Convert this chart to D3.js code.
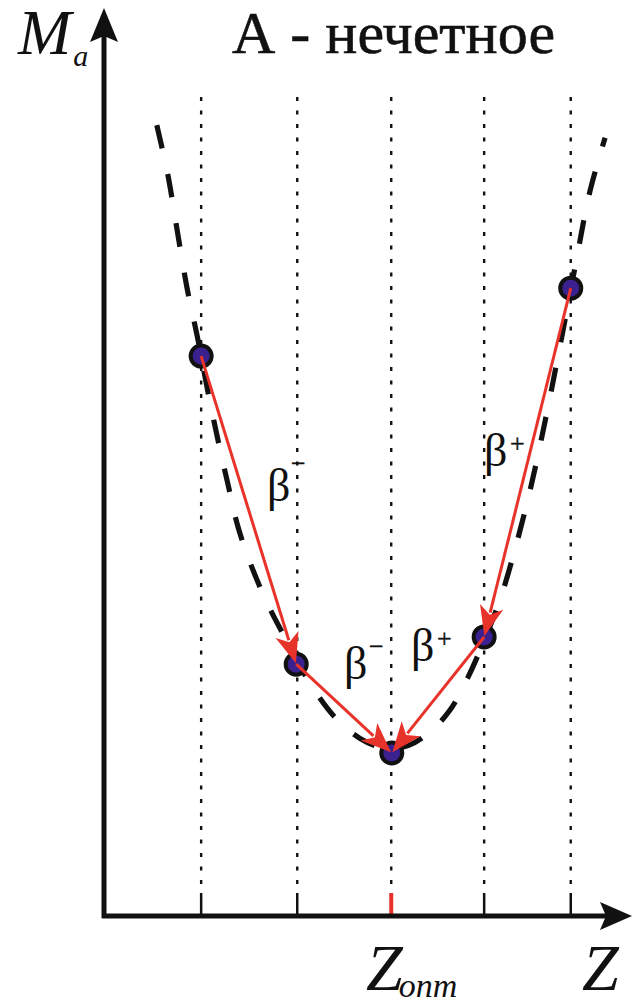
<!DOCTYPE html>
<html>
<head>
<meta charset="utf-8">
<script src="https://cdn.jsdelivr.net/npm/d3@7"></script>
<style>
  html, body { margin: 0; padding: 0; background: #fff; }
  svg { display: block; }
</style>
</head>
<body>
<script>
// ---- data (arbitrary units: Z along x, M_a along y, both 0..100) ----
const zTicks = [18.4, 36.6, 54.4, 72.0, 88.4];
const optimumTickIndex = 2;
const pointZ = [18.4, 36.4, 54.5, 72.0, 88.4];
const pointM = [61.8, 27.8, 18.0, 30.8, 69.3];
const curveZ = [10.0, 12.1, 13.8, 15.7, 17.8, 19.7, 21.6, 23.5, 25.4, 28.0, 31.1, 34.3, 39.0, 43.8, 48.5, 53.2, 57.6, 61.7, 65.5, 68.9, 72.2, 75.0, 77.8, 80.7, 83.5, 86.4, 89.4, 92.0, 94.9];
const curveM = [87.3, 81.8, 75.9, 69.4, 63.6, 57.8, 52.5, 47.6, 42.9, 38.5, 34.3, 30.7, 25.7, 21.9, 19.6, 18.5, 18.8, 20.3, 22.7, 26.3, 30.7, 34.9, 40.4, 47.0, 54.5, 63.0, 72.2, 79.9, 85.9];
const decays = [[0, 1], [1, 2], [4, 3], [3, 2]];
const decayLabels = ["β", "β", "β", "β"];
const decaySigns = ["−", "−", "+", "+"];
const gridTop = 90.4;
const titleText = "А - нечетное";

const W = 637, H = 1002;
const svg = d3.select("body").append("svg").attr("width", W).attr("height", H);

const x = d3.scaleLinear().domain([0, 100]).range([104, 632]);
const y = d3.scaleLinear().domain([0, 100]).range([916, 10]);

const black = "#111";
const red = "#e8332a";
const tickLen = 23;

// dotted verticals
svg.append("g").selectAll("line").data(zTicks).join("line")
  .attr("x1", d => x(d)).attr("x2", d => x(d))
  .attr("y1", y(gridTop)).attr("y2", y(0) - tickLen)
  .attr("stroke", black).attr("stroke-width", 2.4)
  .attr("stroke-dasharray", "4,9.5");

// ticks
svg.append("g").selectAll("line").data(zTicks).join("line")
  .attr("x1", d => x(d)).attr("x2", d => x(d))
  .attr("y1", y(0) - tickLen).attr("y2", y(0))
  .attr("stroke", (d, i) => i === optimumTickIndex ? red : black)
  .attr("stroke-width", (d, i) => i === optimumTickIndex ? 4 : 2.5);

// axes
const x0 = x(0), y0 = y(0);
svg.append("line").attr("x1", x0 - 2).attr("y1", y0).attr("x2", x(100) - 20).attr("y2", y0)
  .attr("stroke", black).attr("stroke-width", 5);
svg.append("line").attr("x1", x0).attr("y1", y0 + 2).attr("x2", x0).attr("y2", y(100) + 20)
  .attr("stroke", black).attr("stroke-width", 5);
// arrowheads
svg.append("path")
  .attr("d", `M${x(100)},${y0} L${x(100) - 32},${y0 - 14} L${x(100) - 26},${y0} L${x(100) - 32},${y0 + 14} Z`)
  .attr("fill", black);
svg.append("path")
  .attr("d", `M${x0},${y(100) - 2} L${x0 - 14},${y(100) + 32} L${x0},${y(100) + 26} L${x0 + 14},${y(100) + 32} Z`)
  .attr("fill", black);

// dashed curve
const curvePts = curveZ.map((z, i) => [x(z), y(curveM[i])]);
svg.append("path")
  .attr("d", d3.line().curve(d3.curveCatmullRom.alpha(0.5))(curvePts))
  .attr("fill", "none").attr("stroke", black).attr("stroke-width", 5.2)
  .attr("stroke-dasharray", "24,26");

// points
svg.append("g").selectAll("circle").data(pointZ).join("circle")
  .attr("cx", d => x(d)).attr("cy", (d, i) => y(pointM[i]))
  .attr("r", 10.5).attr("fill", "#3b2190").attr("stroke", black).attr("stroke-width", 4);

// red arrows
const ag = svg.append("g");
decays.forEach(([a, b]) => {
  const xa = x(pointZ[a]), ya = y(pointM[a]);
  const xb = x(pointZ[b]), yb = y(pointM[b]);
  const dx = xb - xa, dy = yb - ya, L = Math.hypot(dx, dy);
  const ux = dx / L, uy = dy / L;
  const tipX = xb - ux * 1, tipY = yb - uy * 1;
  const hl = 30, hw = 12;
  const bx = tipX - ux * hl, by = tipY - uy * hl;
  ag.append("line").attr("x1", xa).attr("y1", ya).attr("x2", bx + ux * 6).attr("y2", by + uy * 6)
    .attr("stroke", red).attr("stroke-width", 3);
  ag.append("path")
    .attr("d", `M${tipX},${tipY} L${bx - uy * hw},${by + ux * hw} L${bx + ux * 8},${by + uy * 8} L${bx + uy * hw},${by - ux * hw} Z`)
    .attr("fill", red);
});

// decay labels (pixel layout)
const labelPos = [[267, 501, 291, 472], [344, 679, 369, 655], [411, 661, 437, 647], [484, 466, 510, 452]];
const serif = "'Liberation Serif', 'Times New Roman', serif";
decayLabels.forEach((t, i) => {
  const p = labelPos[i];
  svg.append("text").attr("x", p[0]).attr("y", p[1]).text(t)
    .attr("font-family", serif).attr("font-size", 46).attr("fill", black);
  svg.append("text").attr("x", p[2]).attr("y", p[3]).text(decaySigns[i])
    .attr("font-family", serif).attr("font-size", 26).attr("fill", black)
    .attr("stroke", black).attr("stroke-width", 0.4);
});

// title
svg.append("text").attr("x", 232).attr("y", 53).text(titleText)
  .attr("font-family", serif).attr("font-size", 60).attr("fill", black)
  .attr("stroke", black).attr("stroke-width", 0.6);

// axis labels
const ylab = svg.append("text").attr("x", 18).attr("y", 54)
  .attr("font-family", serif).attr("font-style", "italic").attr("fill", black);
ylab.append("tspan").attr("font-size", 64).text("M");
ylab.append("tspan").attr("font-size", 30).attr("dx", 2).attr("dy", 12).text("a");

const zl = svg.append("text").attr("x", 366).attr("y", 990)
  .attr("font-family", serif).attr("font-style", "italic").attr("fill", black);
zl.append("tspan").attr("font-size", 66).text("Z");
zl.append("tspan").attr("font-size", 34).attr("dx", -4).attr("dy", 7).text("опт");

svg.append("text").attr("x", 582).attr("y", 990)
  .attr("font-family", serif).attr("font-style", "italic").attr("font-size", 66).attr("fill", black)
  .text("Z");
</script>
</body>
</html>
